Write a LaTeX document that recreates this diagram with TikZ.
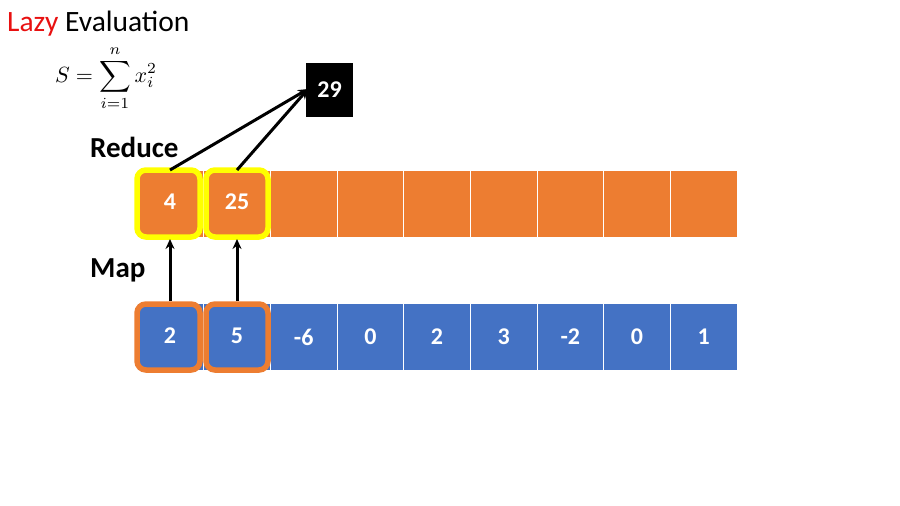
\documentclass[tikz,border=0pt]{standalone}
\usepackage{fontspec}
\setmainfont{Carlito}
\usetikzlibrary{arrows.meta}
\definecolor{cellorange}{HTML}{ED7D31}
\definecolor{cellblue}{HTML}{4472C4}
\definecolor{hlyellow}{HTML}{FFFF00}
\definecolor{titlered}{HTML}{E81010}
\tikzset{
  cellbox/.style={draw=white, line width=0.8pt, minimum width=66.67pt, minimum height=67pt, inner sep=0pt, text=white, font=\fontsize{24}{28}\selectfont\bfseries},
  ocell/.style={cellbox, fill=cellorange},
  bcell/.style={cellbox, fill=cellblue},
  hlbox/.style={line width=5.5pt, rounded corners=9pt},
  hltext/.style={text=white, font=\fontsize{24}{28}\selectfont\bfseries},
  arr/.style={-{Stealth[length=10pt,width=9pt]}, line width=3pt, black},
  lbl/.style={font=\fontsize{29}{34}\selectfont\bfseries, anchor=base west, inner sep=0pt}
}
\begin{document}
\begin{tikzpicture}[x=1pt,y=-1pt]
\useasboundingbox (0,0) rectangle (900,506);
% title
\node[anchor=base west, inner sep=0pt, font=\fontsize{29.5}{34}\selectfont] (title) at (7,31) {\textcolor{titlered}{Lazy} Evaluation};
% formula
\node[inner sep=0pt, scale=2.2] (formula) at (106,78) {$\displaystyle S=\sum_{i=1}^{n} x_i^2$};
% labels
\node[lbl] (reduce) at (90,157) {Reduce};
\node[lbl] (map) at (90,277) {Map};
% rows
\foreach \i in {1,...,9} {
  \node[ocell] (o\i) at ({137+66.67*(\i-0.5)},203.5) {};
}
\foreach \v [count=\i] in {2,5,-6,0,2,3,-2,0,1} {
  \node[bcell] (b\i) at ({137+66.67*(\i-0.5)},337) {\v};
}
% highlights
\draw[hlbox, draw=hlyellow, fill=cellorange] (137,170) rectangle (200,237);
\draw[hlbox, draw=hlyellow, fill=cellorange] (206,170) rectangle (268,237);
\draw[hlbox, draw=cellorange, fill=cellblue] (137,304) rectangle (200,370);
\draw[hlbox, draw=cellorange, fill=cellblue] (206,304) rectangle (268,370);
\node[hltext] (v4) at (170,202) {4};
\node[hltext] (v25) at (237,202) {25};
\node[hltext] (v2) at (170,336) {2};
\node[hltext] (v5) at (237,336) {5};
% result box
\node[fill=black, text=white, minimum width=47pt, minimum height=54pt, inner sep=0pt, font=\fontsize{24}{28}\selectfont\bfseries] (res) at (329.5,90) {29};
\coordinate (tip) at (308,89);
\coordinate (s1) at (170,170);
\coordinate (s2) at (237,170);
\draw[arr] (s1) -- (tip);
\draw[arr] (s2) -- (tip);
% map arrows
\coordinate (m1s) at (170,301);
\coordinate (m1e) at (170,239);
\coordinate (m2s) at (237,301);
\coordinate (m2e) at (237,239);
\draw[arr] (m1s) -- (m1e);
\draw[arr] (m2s) -- (m2e);
\end{tikzpicture}
\end{document}
